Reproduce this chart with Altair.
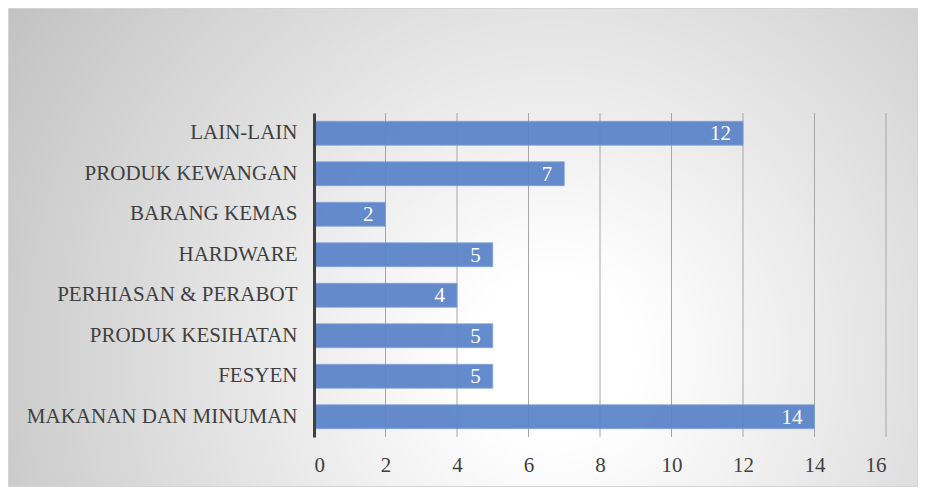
import altair as alt
import pandas as pd

categories = ["LAIN-LAIN", "PRODUK KEWANGAN", "BARANG KEMAS", "HARDWARE",
              "PERHIASAN & PERABOT", "PRODUK KESIHATAN", "FESYEN", "MAKANAN DAN MINUMAN"]
values = [12, 7, 2, 5, 4, 5, 5, 14]
x_ticks = [0, 2, 4, 6, 8, 10, 12, 14, 16]

df = pd.DataFrame({"cat": categories, "val": values})
grid_df = pd.DataFrame({"g": x_ticks[1:]})

W, H = 572, 324
PL, PT, PR, PB = 306, 105, 32, 50
FONT = "Liberation Serif"

bg = alt.Chart(pd.DataFrame({"a": [0]})).mark_rect(
    fill=alt.RadialGradient(
        gradient="radial", x1=0.6, y1=0.62, r1=0.0, x2=0.6, y2=0.62, r2=0.75,
        stops=[alt.GradientStop(color="#ffffff", offset=0),
               alt.GradientStop(color="#ffffff", offset=0.12),
               alt.GradientStop(color="#bebebe", offset=1)]),
    stroke="#d4d4d4", strokeWidth=1,
).encode(
    x=alt.value(-PL + 0.5), x2=alt.value(W + PR - 0.5),
    y=alt.value(-PT + 0.5), y2=alt.value(H + PB - 0.5),
)

xscale = alt.Scale(domain=[0, 16], nice=False)
yscale = alt.Scale(paddingInner=0.41, paddingOuter=0.205)

xaxis = alt.Axis(values=x_ticks, title=None, grid=False, domain=False, ticks=False,
                 labelFont=FONT, zindex=1, labelFontSize=21, labelColor="#404040",
                 labelPadding=17)

grid = alt.Chart(grid_df).mark_rule(color="#a6a6a6", strokeWidth=1).encode(
    x=alt.X("g:Q", scale=xscale, axis=xaxis),
    y=alt.value(0), y2=alt.value(H),
)

bars = alt.Chart(df).mark_bar(color="#5b84c9", opacity=0.94, stroke="#7d9fd8",
                              strokeWidth=0.8).encode(
    x=alt.X("val:Q", scale=xscale, axis=xaxis),
    y=alt.Y("cat:N", sort=categories, scale=yscale,
            axis=alt.Axis(title=None, domain=True, domainColor="#404040", domainWidth=3,
                          ticks=False, labelFont=FONT, labelFontSize=21, zindex=1,
                          labelColor="#404040", labelPadding=17, grid=False,
                          labelLimit=400)),
)

text = alt.Chart(df).mark_text(align="right", baseline="middle", dx=-12, dy=1,
                               color="white", font=FONT, fontSize=21).encode(
    x=alt.X("val:Q", scale=xscale),
    y=alt.Y("cat:N", sort=categories, scale=yscale),
    text="val:Q",
)

chart = alt.layer(bg, grid, bars, text).properties(
    width=W, height=H,
    autosize=alt.AutoSizeParams(type="none"),
    padding={"left": PL, "top": PT, "right": PR, "bottom": PB},
    background="white",
).configure_view(stroke=None)

chart.save("out.html", embed_options={"renderer": "svg", "actions": False})
